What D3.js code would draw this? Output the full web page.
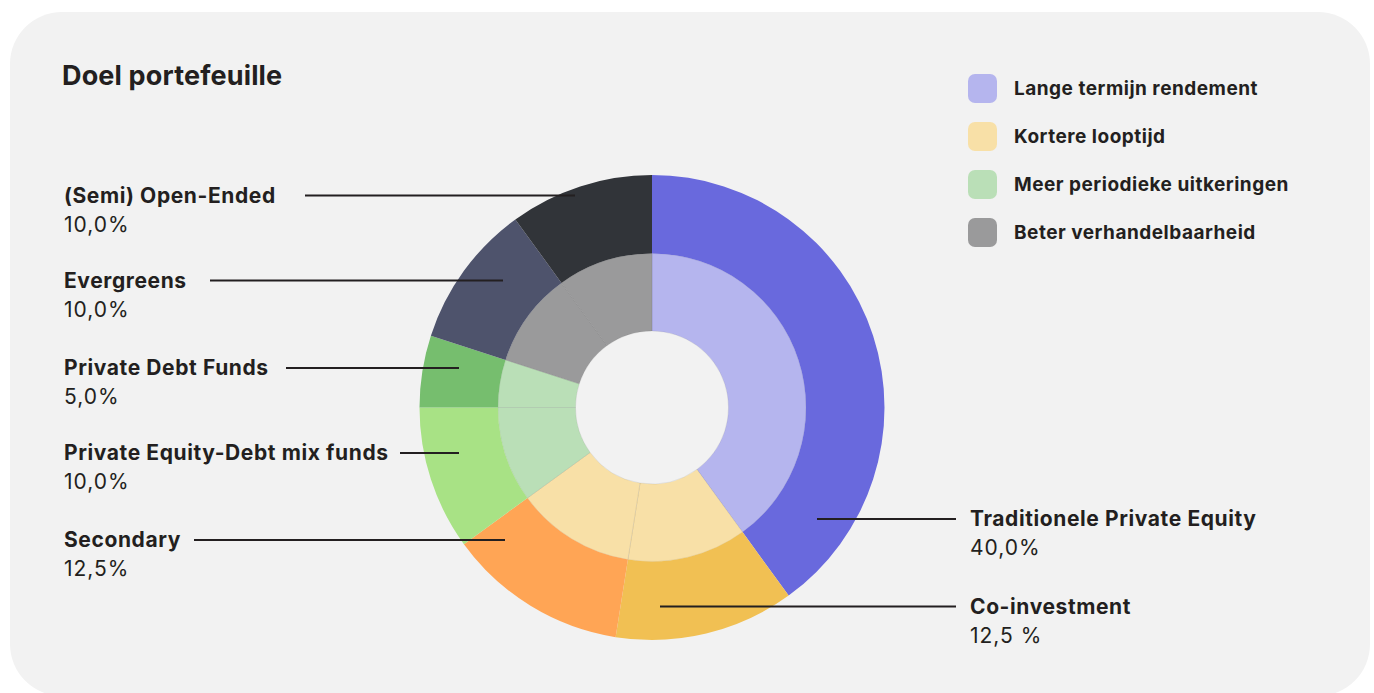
<!DOCTYPE html>
<html lang="en">
<head>
<meta charset="utf-8">
<title>Doel portefeuille</title>
<script src="https://d3js.org/d3.v7.min.js"></script>
<style>
  body { margin: 0; background: #ffffff; }
  text { font-family: Inter, "Noto Sans", sans-serif; fill: #231f20; }
</style>
</head>
<body>
<script>
// data
const segments = ["Traditionele Private Equity", "Co-investment", "Secondary",
                  "Private Equity-Debt mix funds", "Private Debt Funds", "Evergreens", "(Semi) Open-Ended"];
const shares = [40, 12.5, 12.5, 10, 5, 10, 10];
const shareLabels = ["40,0%", "12,5 %", "12,5%", "10,0%", "5,0%", "10,0%", "10,0%"];
const segmentGoal = [0, 1, 1, 2, 2, 3, 3];
const goals = ["Lange termijn rendement", "Kortere looptijd", "Meer periodieke uitkeringen", "Beter verhandelbaarheid"];

const outerColors = ["#6969dd", "#f1c053", "#ffa555", "#a8e285", "#76be6e", "#4e536c", "#313439"];
const goalColors = ["#b5b5ee", "#f8e0a7", "#badfb7", "#9a9a9b"];

const W = 1374, H = 693;
const cx = 652, cy = 407.5;
const rOuter = 232.5, rMid = 154, rHole = 76.5;

const svg = d3.select("body").append("svg")
    .attr("width", W)
    .attr("height", H);

svg.append("rect")
    .attr("x", 10).attr("y", 12)
    .attr("width", 1360).attr("height", 684)
    .attr("rx", 52)
    .attr("fill", "#f2f2f2");

svg.append("text")
    .attr("x", 62).attr("y", 85)
    .style("font-size", "27px")
    .style("font-weight", 700)
    .style("letter-spacing", "0.15px")
    .text("Doel portefeuille");

const pie = d3.pie().sort(null).value(d => d);
const arcs = pie(shares);

const outerArc = d3.arc().innerRadius(rMid).outerRadius(rOuter);
const innerArc = d3.arc().innerRadius(rHole).outerRadius(rMid);

const donut = svg.append("g").attr("transform", `translate(${cx},${cy})`);

donut.selectAll(".inner")
  .data(arcs)
  .enter().append("path")
    .attr("class", "inner")
    .attr("d", innerArc)
    .attr("fill", (d, i) => goalColors[segmentGoal[i]])
    .attr("stroke", "rgba(0,0,0,0.12)")
    .attr("stroke-width", 0.6);

donut.selectAll(".outer")
  .data(arcs)
  .enter().append("path")
    .attr("class", "outer")
    .attr("d", outerArc)
    .attr("fill", (d, i) => outerColors[i]);

// leader lines: left side labels and right side labels
const labelPos = [
  {side: "right", y: 519, x0: 817, x1: 956},
  {side: "right", y: 606.5, x0: 660, x1: 956},
  {side: "left", y: 540, x0: 194, x1: 505},
  {side: "left", y: 453, x0: 400, x1: 459},
  {side: "left", y: 368, x0: 286, x1: 459},
  {side: "left", y: 280.5, x0: 210, x1: 503},
  {side: "left", y: 195.5, x0: 305, x1: 575}
];

const labels = svg.append("g");
segments.forEach((name, i) => {
  const p = labelPos[i];
  labels.append("line")
      .attr("x1", p.x0).attr("x2", p.x1)
      .attr("y1", p.y).attr("y2", p.y)
      .attr("stroke", "#231f20")
      .attr("stroke-width", 2.2);
  const tx = p.side === "left" ? 64 : 970;
  labels.append("text")
      .attr("x", tx).attr("y", p.y + 7)
      .style("font-size", "21px")
      .style("font-weight", 700)
      .style("letter-spacing", "0.6px")
      .text(name);
  labels.append("text")
      .attr("x", tx).attr("y", p.y + 36)
      .style("font-size", "21px")
      .style("font-weight", 400)
      .style("letter-spacing", "1px")
      .text(shareLabels[i]);
});

// legend
const legend = svg.append("g").attr("transform", "translate(968,74)");
goals.forEach((g, i) => {
  const row = legend.append("g").attr("transform", `translate(0,${i * 48})`);
  row.append("rect")
      .attr("width", 29).attr("height", 29)
      .attr("rx", 7)
      .attr("fill", goalColors[i]);
  row.append("text")
      .attr("x", 46).attr("y", 21)
      .style("font-size", "19px")
      .style("font-weight", 700)
      .style("letter-spacing", "0.5px")
      .text(g);
});
</script>
</body>
</html>
